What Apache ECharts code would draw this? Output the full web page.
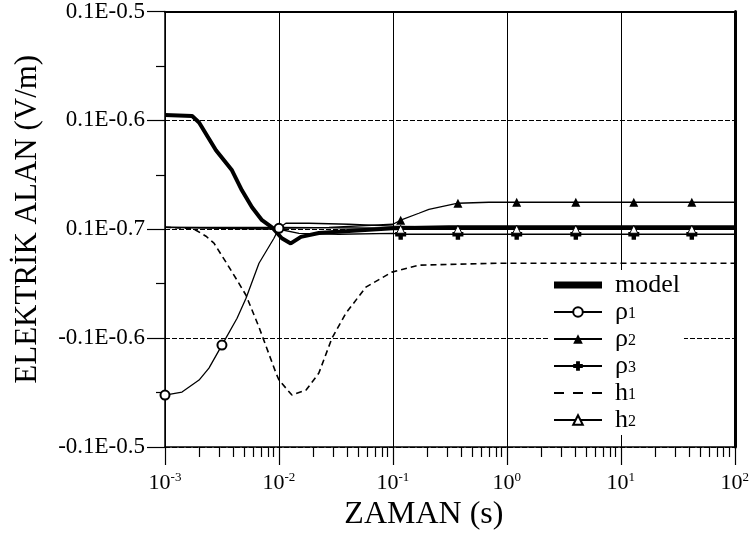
<!DOCTYPE html>
<html>
<head>
<meta charset="utf-8">
<script src="https://cdn.jsdelivr.net/npm/echarts@6/dist/echarts.min.js"></script>
<style>
  html, body { margin: 0; background: #fff; }
  #chart { width: 752px; height: 541px; }
</style>
</head>
<body>
<div id="chart"></div>
<script>
// y tick labels, bottom to top (axis value 0..4)
const yTickLabels = ['-0.1E-0.5', '-0.1E-0.6', '0.1E-0.7', '0.1E-0.6', '0.1E-0.5'];
// minor ticks of the log time axis
const xMinorTicks = [];
for (let e = -3; e < 2; e++) {
    for (let m = 2; m <= 9; m++) xMinorTicks.push(m * Math.pow(10, e));
}

// time (s) and field values
const modelT = [0.001, 0.00173, 0.00199, 0.0028, 0.00387, 0.00473, 0.0058, 0.0071, 0.00869, 0.0106, 0.0127, 0.0156, 0.0224, 0.0411, 0.1, 0.31, 100];
const modelV = [3.05, 3.04, 2.98, 2.725, 2.541, 2.358, 2.202, 2.083, 2.018, 1.917, 1.87, 1.93, 1.965, 1.985, 2.009, 2.018, 2.018];

const rho1T = [0.001, 0.00141, 0.00199, 0.00243, 0.00316, 0.00429, 0.00514, 0.00668, 0.00904, 0.01, 0.0115, 0.0183, 0.0411, 0.1, 0.31, 100];
const rho1V = [0.477, 0.505, 0.615, 0.725, 0.936, 1.183, 1.367, 1.688, 1.917, 2.009, 2.055, 2.055, 2.046, 2.028, 2.018, 2.018];
const rho1Marks = [0, 4, 9];

const rho2T = [0.001, 0.01, 0.0275, 0.1, 0.117, 0.169, 0.207, 0.372, 0.695, 1.22, 4.03, 13.0, 42.0, 100];
const rho2V = [2.018, 2.009, 2.018, 2.046, 2.083, 2.147, 2.183, 2.239, 2.248, 2.248, 2.248, 2.248, 2.248, 2.248];
const rho2Marks = [4, 7, 9, 10, 11, 12];

const rho3T = [0.001, 0.01, 0.015, 0.0336, 0.1, 0.117, 0.372, 1.22, 4.03, 13.0, 42.0, 100];
const rho3V = [2.018, 2.0, 1.963, 1.954, 1.963, 1.954, 1.954, 1.954, 1.954, 1.954, 1.954, 1.954];
const rho3Marks = [5, 6, 7, 8, 9, 10];

const h1T = [0.001, 0.00162, 0.00187, 0.00229, 0.00269, 0.00343, 0.00429, 0.00514, 0.00668, 0.00942, 0.01, 0.013, 0.0173, 0.0224, 0.0292, 0.0387, 0.0579, 0.098, 0.169, 0.85, 100];
const h1V = [2.018, 2.009, 1.991, 1.936, 1.872, 1.697, 1.532, 1.394, 1.101, 0.679, 0.615, 0.477, 0.523, 0.679, 1.0, 1.229, 1.468, 1.606, 1.67, 1.688, 1.688];

const h2T = [0.001, 0.01, 0.1, 0.117, 0.372, 1.22, 4.03, 13.0, 42.0, 100];
const h2V = [2.018, 2.018, 2.009, 2.0, 2.0, 2.0, 2.0, 2.0, 2.0, 2.0];
const h2Marks = [3, 4, 5, 6, 7, 8];

const serif = '"Liberation Serif", "Times New Roman", serif';
const plusPath = 'path://M3,0h4v3h3v4h-3v3h-4v-3h-3v-4h3z';
// legend icons for the two series without markers (box 48 x 12)
const corners = 'M0,0h0.01v0.01h-0.01z M47.99,11.99h0.01v0.01h-0.01z ';
const modelIcon = 'path://' + corners + 'M0,2.5h48v7h-48z';
const h1Icon = 'path://' + corners + 'M0,5h10v2h-10z M19,5h10v2h-10z M38,5h10v2h-10z';

function points(ts, vs, marks, sym) {
    return ts.map((t, i) => ({
        value: [t, vs[i]],
        symbol: marks && marks.indexOf(i) >= 0 ? sym : 'none'
    }));
}

const chart = echarts.init(document.getElementById('chart'));
chart.setOption({
    animation: false,
    backgroundColor: '#fff',
    grid: { left: 165, right: 16, top: 11, bottom: 94 },
    legend: {
        orient: 'vertical',
        left: 549,
        top: 270,
        backgroundColor: '#fff',
        padding: [2, 4, 2, 4],
        itemWidth: 48,
        itemHeight: 12,
        itemGap: 1,
        data: [
            { name: 'model', icon: modelIcon },
            'ρ1', 'ρ2', 'ρ3',
            { name: 'h1', icon: h1Icon },
            'h2'
        ],
        formatter: name => name.length === 2 ? name[0] + '{sub|' + name[1] + '}' : name,
        textStyle: {
            fontFamily: serif,
            fontSize: 26,
            color: '#000',
            lineHeight: 20,
            padding: [0, 0, 0, 8],
            rich: {
                sub: { fontFamily: serif, fontSize: 16, verticalAlign: 'bottom', lineHeight: 14, color: '#000' }
            }
        }
    },
    xAxis: [
        {
            type: 'log',
            logBase: 10,
            min: 0.001,
            max: 100,
            name: 'ZAMAN (s)',
            nameLocation: 'middle',
            nameGap: 50,
            nameTextStyle: { fontFamily: serif, fontSize: 32, color: '#000', padding: [0, 52, 0, 0] },
            axisLine: { lineStyle: { color: '#000', width: 1.5 } },
            axisTick: { length: 18, inside: false, lineStyle: { color: '#000', width: 1.2 } },
            splitLine: { show: true, lineStyle: { color: '#000', width: 1 } },
            axisLabel: {
                margin: 24,
                formatter: v => '{b|10}{s|' + Math.round(Math.log10(v)) + '}',
                rich: {
                    b: { fontFamily: serif, fontSize: 22, color: '#000', lineHeight: 24 },
                    s: { fontFamily: serif, fontSize: 13, color: '#000', verticalAlign: 'top', lineHeight: 14 }
                }
            }
        },
        {
            type: 'log',
            logBase: 10,
            min: 0.001,
            max: 100,
            position: 'bottom',
            axisLine: { show: false },
            axisLabel: { show: false },
            splitLine: { show: false },
            axisTick: { show: true, length: 10, customValues: xMinorTicks, lineStyle: { color: '#000', width: 1.2 } }
        },
        {
            type: 'log',
            logBase: 10,
            min: 0.001,
            max: 100,
            position: 'top',
            axisLine: { show: true, lineStyle: { color: '#000', width: 2 } },
            axisTick: { show: false },
            axisLabel: { show: false },
            splitLine: { show: false }
        }
    ],
    yAxis: [
        {
            type: 'value',
            min: 0,
            max: 4,
            interval: 1,
            name: 'ELEKTRİK ALAN (V/m)',
            nameLocation: 'middle',
            nameGap: 122,
            nameTextStyle: { fontFamily: serif, fontSize: 31, color: '#000', padding: [0, 0, 0, 20] },
            axisLine: { show: true, lineStyle: { color: '#000', width: 1.5 } },
            axisTick: { show: true, length: 18, lineStyle: { color: '#000', width: 1.2 } },
            minorTick: { show: true, splitNumber: 2, length: 9, lineStyle: { color: '#000', width: 1.2 } },
            splitLine: { show: true, lineStyle: { color: '#000', width: 1, type: [5, 2] } },
            axisLabel: {
                margin: 20,
                fontFamily: serif,
                fontSize: 23,
                color: '#000',
                formatter: v => yTickLabels[Math.round(v)]
            }
        },
        {
            type: 'value',
            min: 0,
            max: 4,
            position: 'right',
            axisLine: { show: true, lineStyle: { color: '#000', width: 3 } },
            axisTick: { show: false },
            axisLabel: { show: false },
            splitLine: { show: false }
        }
    ],
    series: [
        {
            name: 'h1', type: 'line', symbol: 'none',
            lineStyle: { color: '#000', width: 1.6, type: [6, 4] },
            itemStyle: { color: '#000' },
            data: points(h1T, h1V)
        },
        {
            name: 'ρ1', type: 'line', symbol: 'emptyCircle', symbolSize: 9,
            lineStyle: { color: '#000', width: 1.3 },
            itemStyle: { color: '#000', borderWidth: 1 },
            data: points(rho1T, rho1V, rho1Marks, 'emptyCircle')
        },
        {
            name: 'ρ2', type: 'line', symbol: 'triangle', symbolSize: 9,
            lineStyle: { color: '#000', width: 1.3 },
            itemStyle: { color: '#000' },
            data: points(rho2T, rho2V, rho2Marks, 'triangle')
        },
        {
            name: 'ρ3', type: 'line', symbol: plusPath, symbolSize: 11,
            lineStyle: { color: '#000', width: 1.3 },
            itemStyle: { color: '#000' },
            data: points(rho3T, rho3V, rho3Marks, plusPath)
        },
        {
            name: 'h2', type: 'line', symbol: 'triangle', symbolSize: 8,
            lineStyle: { color: '#000', width: 1.3 },
            itemStyle: { color: '#fff', borderColor: '#000', borderWidth: 1 },
            data: points(h2T, h2V, h2Marks, 'triangle')
        },
        {
            name: 'model', type: 'line', symbol: 'none',
            lineStyle: { color: '#000', width: 4 },
            itemStyle: { color: '#000' },
            data: points(modelT, modelV)
        }
    ]
});
</script>
</body>
</html>
